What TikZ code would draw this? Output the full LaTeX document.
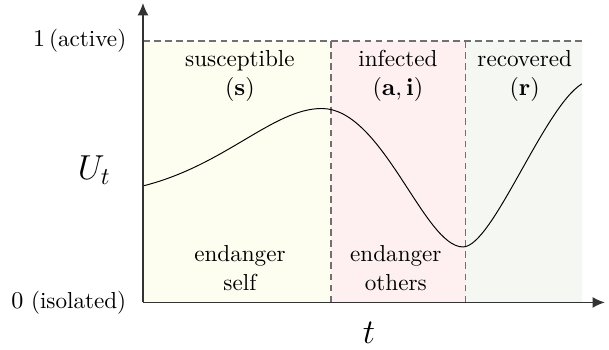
\documentclass[tikz,border=0pt]{standalone}
\usepackage{tikz}
\usetikzlibrary{positioning, arrows.meta, calc}
\usepackage{amsmath}
\usepackage{xcolor}
\definecolor{suscfill}{HTML}{FEFEF0}
\definecolor{inffill}{HTML}{FEF0F1}
\definecolor{recfill}{HTML}{F4F7F2}
\definecolor{axgray}{HTML}{333333}
\definecolor{dashgray}{HTML}{707070}

\begin{document}
\begin{tikzpicture}[
    axis/.style={draw=axgray, semithick, -{Latex[length=1.8mm, width=1.6mm]}},
    bound/.style={draw=dashgray, semithick, dash pattern=on 2.8pt off 1.8pt},
    phase/.style={font=\fontsize{9.6}{12}\selectfont, align=center},
    ticklbl/.style={font=\fontsize{9.6}{12}\selectfont, anchor=east},
    axlbl/.style={font=\fontsize{13.9}{16}\selectfont}]
    \useasboundingbox (-2.086,-0.693) rectangle (6.80,4.413);
    % phase backgrounds
    \fill[suscfill] (0,0) rectangle (2.743,3.815);
    \fill[inffill]  (2.743,0) rectangle (4.707,3.815);
    \fill[recfill]  (4.707,0) rectangle (6.405,3.815);
    \coordinate (O) at (0,0);
    \coordinate (xend) at (6.74,0);
    \coordinate (yend) at (0,4.37);
    \coordinate (top) at (0,3.815);
    \coordinate (topend) at (6.405,3.815);
    \coordinate (b1lo) at (2.743,0);
    \coordinate (b1hi) at (2.743,3.815);
    \coordinate (b2lo) at (4.707,0);
    \coordinate (b2hi) at (4.707,3.815);
    \draw[bound] (top) -- (topend);
    \draw[bound] (b1lo) -- (b1hi);
    \draw[bound] (b2lo) -- (b2hi);
    % utility curve
    \draw[thin, black] (0,1.70) .. controls (1.2,2.0) and (1.9,2.83) .. (2.61,2.83)
        .. controls (3.5,2.83) and (4.1,0.81) .. (4.67,0.81)
        .. controls (5.1,0.81) and (5.85,2.85) .. (6.405,3.19);
    \draw[axis] (O) -- (xend);
    \draw[axis] (O) -- (yend);
    \node[phase] (susc) at (1.415,3.30) {susceptible\\$(\mathbf{s})$};
    \node[phase] (inf)  at (3.72,3.30) {infected\\$(\mathbf{a},\mathbf{i})$};
    \node[phase] (rec)  at (5.57,3.30) {recovered\\$(\mathbf{r})$};
    \node[phase] (self)   at (1.415,0.50) {endanger\\self};
    \node[phase] (others) at (3.69,0.50) {endanger\\others};
    \node[ticklbl] (one)  at (-0.12,3.815) {$1\,$(active)};
    \node[ticklbl] (zero) at (-0.12,0) {$0$ (isolated)};
    \node[axlbl] (ut) at (-0.71,1.93) {$U_t$};
    \node[axlbl] (tl) at (3.30,-0.445) {$t$};
  \end{tikzpicture}
\end{document}
